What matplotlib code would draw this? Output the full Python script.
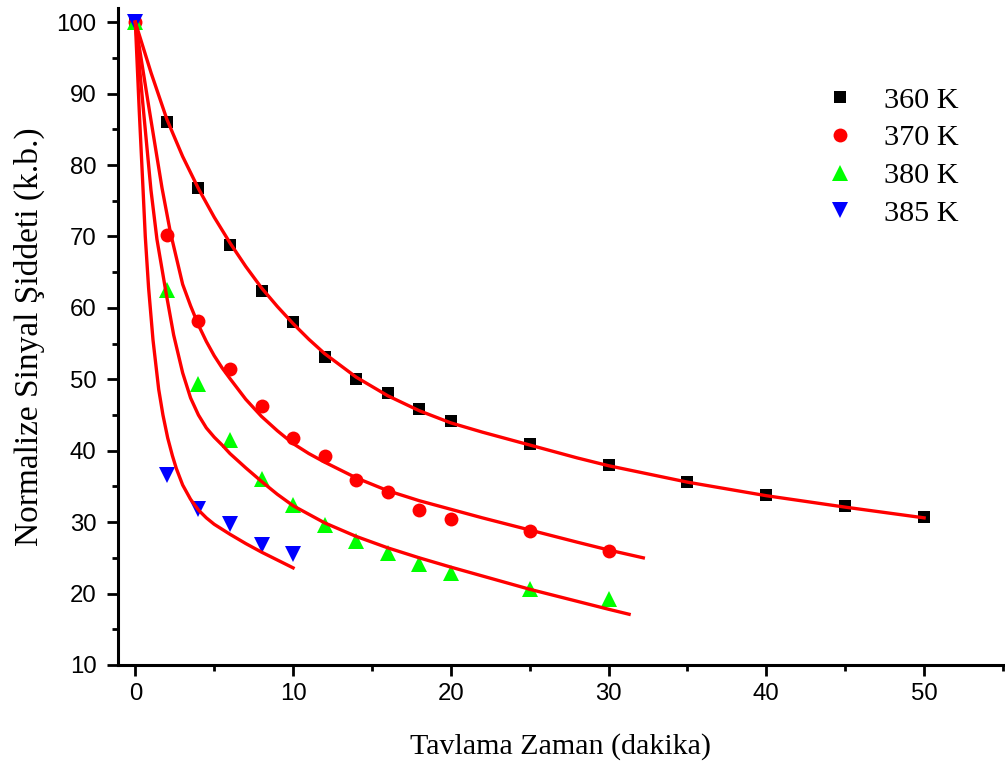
import matplotlib.pyplot as plt
from matplotlib.ticker import MultipleLocator

x360 = [0, 2, 4, 6, 8, 10, 12, 14, 16, 18, 20, 25, 30, 35, 40, 45, 50]
y360 = [100, 86.0, 76.8, 68.8, 62.4, 58.0, 53.1, 50.0, 48.1, 45.8, 44.2, 41.0, 38.0, 35.6, 33.8, 32.2, 30.7]

x370 = [0, 2, 4, 6, 8, 10, 12, 14, 16, 18, 20, 25, 30]
y370 = [100, 70.2, 58.2, 51.4, 46.3, 41.8, 39.3, 35.9, 34.2, 31.7, 30.4, 28.8, 25.9]

x380 = [0, 2, 4, 6, 8, 10, 12, 14, 16, 18, 20, 25, 30]
y380 = [100, 62.5, 49.3, 41.5, 36.0, 32.4, 29.6, 27.3, 25.7, 24.1, 22.9, 20.6, 19.2]

x385 = [0, 2, 4, 6, 8, 10]
y385 = [100, 36.6, 31.9, 29.8, 26.8, 25.6]

# fit curves
fx360 = [0, 1, 2, 3, 4, 5, 6, 7, 8, 9, 10, 11, 12, 14, 16, 18, 20, 22, 25, 28, 30, 35, 40, 45, 50]
fy360 = [100, 92.9, 86.4, 81.2, 76.7, 72.7, 69.1, 65.8, 62.8, 60.2, 57.8, 55.6, 53.6, 50.3, 47.7,
         45.6, 43.9, 42.6, 40.8, 39.0, 37.9, 35.6, 33.7, 32.1, 30.6]

fx370 = [0, 0.85, 1.69, 2.22, 3, 3.5, 4, 4.5, 5, 5.5, 6, 7, 8, 9, 10, 11, 12, 14, 16, 18, 20, 22,
         25, 28, 30, 32.2]
fy370 = [100, 88.2, 76.8, 70.6, 63.3, 60.3, 57.6, 55.3, 53.3, 51.6, 50.1, 47.2, 44.8, 42.8, 41.0,
         39.6, 38.4, 36.2, 34.4, 33.0, 31.8, 30.6, 28.9, 27.2, 26.1, 25.0]

fx380 = [0, 0.5, 0.99, 1.37, 1.94, 2.43, 3, 3.5, 4, 4.5, 5, 5.5, 6, 7, 8, 9, 10, 12, 14, 16, 18,
         20, 25, 30, 31.3]
fy380 = [100, 88.0, 76.5, 69.6, 62.2, 56.2, 50.9, 47.4, 45.0, 43.2, 41.9, 40.8, 39.6, 37.6, 35.7,
         33.9, 32.3, 29.9, 28.0, 26.4, 25.0, 23.7, 20.6, 17.8, 17.1]

fx385 = [0, 0.25, 0.49, 0.63, 0.84, 1.12, 1.48, 1.75, 2.05, 2.35, 2.6, 3, 3.5, 4, 4.5, 5, 6, 7,
         8, 9, 10]
fy385 = [100, 87.5, 76.5, 70.0, 62.8, 55.5, 48.6, 45.0, 41.8, 39.3, 37.5, 35.2, 33.2, 31.7, 30.6,
         29.7, 28.3, 27.0, 25.8, 24.7, 23.6]

sans = 'Liberation Sans'
serif = 'Liberation Serif'

fig = plt.figure(figsize=(10.05, 7.66), dpi=100)
ax = fig.add_axes([0.1174, 0.1319, 0.8806, 0.8577])

ax.plot(x360, y360, 's', color='black', ms=8.5, mew=0, label='360 K', zorder=3)
ax.plot(x370, y370, 'o', color='#ff0000', ms=10, mew=0, label='370 K', zorder=3)
ax.plot(x380, y380, '^', color='#00ff00', ms=11.5, mew=0, label='380 K', zorder=3)
ax.plot(x385, y385, 'v', color='#0000ff', ms=11.5, mew=0, label='385 K', zorder=3)

for fx, fy in [(fx360, fy360), (fx370, fy370), (fx380, fy380), (fx385, fy385)]:
    ax.plot(fx, fy, '-', color='#ff0000', lw=2.4, zorder=4, solid_joinstyle='round')

ax.set_xlim(-1.1, 55)
ax.set_ylim(10, 102)
ax.xaxis.set_major_locator(MultipleLocator(10))
ax.xaxis.set_minor_locator(MultipleLocator(5))
ax.yaxis.set_major_locator(MultipleLocator(10))
ax.yaxis.set_minor_locator(MultipleLocator(5))

for s in ['top', 'right']:
    ax.spines[s].set_visible(False)
for s in ['left', 'bottom']:
    ax.spines[s].set_linewidth(2.2)

ax.tick_params(which='major', direction='out', length=8, width=2, labelsize=17.3)
ax.tick_params(which='minor', direction='out', length=4.5, width=2)
ax.tick_params(axis='x', which='major', pad=5)
ax.tick_params(axis='y', which='major', pad=7.4)
for lab in ax.get_xticklabels() + ax.get_yticklabels():
    lab.set_fontfamily(sans)

ax.set_xlabel('Tavlama Zaman (dakika)', fontsize=21.6, fontfamily=serif, labelpad=20)
ax.set_ylabel('Normalize Sinyal Şiddeti (k.b.)', fontsize=24, fontfamily=serif, labelpad=8)

leg = ax.legend(loc='upper left', bbox_to_anchor=(0.775, 0.913), frameon=False,
                prop={'family': serif, 'size': 21.8}, handlelength=1.0,
                handletextpad=0.94, labelspacing=0.35, borderpad=0.2)

fig.savefig('out.png', dpi=100)
